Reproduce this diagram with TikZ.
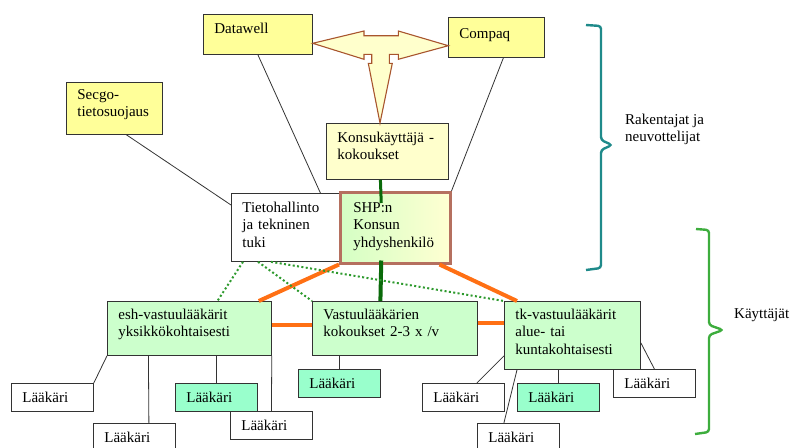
\documentclass[tikz,border=0pt]{standalone}
\usepackage{fontspec}
\setmainfont{Liberation Serif}
\usepackage{tikz}
\usepackage{color}

\definecolor{boxline}{HTML}{333333}
\definecolor{sunyellow}{HTML}{FFFF99}
\definecolor{paleyellow}{HTML}{FFFFCC}
\definecolor{palegreen}{HTML}{CCFFCC}
\definecolor{mint}{HTML}{99FFCC}
\definecolor{shpgreen}{HTML}{D4FFC4}
\definecolor{shpyellow}{HTML}{FFFFD2}
\definecolor{shpborder}{HTML}{B5705F}
\definecolor{arrowline}{HTML}{A8552E}
\definecolor{orangelink}{HTML}{FF7014}
\definecolor{darklink}{HTML}{0A6A0A}
\definecolor{dotlink}{HTML}{2E9A2E}
\definecolor{tealbrace}{HTML}{1F8A8A}
\definecolor{greenbrace}{HTML}{3DAD3D}

\begin{document}
\begin{tikzpicture}[x=1pt,y=-1pt,
  box/.style={draw=boxline, line width=0.8pt, anchor=north west, inner xsep=11pt, inner ysep=0pt,
    align=left, text height=19pt, font=\fontsize{15}{17.5}\selectfont},
  doctor/.style={box, text width=60pt, text depth=9pt},
  note/.style={anchor=north west, inner sep=0pt, align=left, text height=12pt,
    font=\fontsize{15}{17}\selectfont},
  thinlink/.style={draw=black!80, line width=0.8pt},
  orangebar/.style={draw=orangelink, line width=4pt},
  greenbar/.style={draw=darklink, line width=4pt},
  dotbar/.style={draw=dotlink, line width=2pt, dash pattern=on 2pt off 2.4pt},
  brace/.style={line width=2.4pt, rounded corners=3pt}]

\useasboundingbox (0,0) rectangle (791,447);

\node[box, fill=sunyellow, text width=87pt, text depth=21pt] (datawell) at (203,14) {Datawell};
\node[box, fill=sunyellow, text width=74pt, text height=21pt, text depth=19pt] (compaq) at (448,17) {Compaq};
\node[box, fill=paleyellow, text width=100pt, text depth=37pt] (konsu) at (326,123) {Konsukäyttäjä -\\kokoukset};
\node[box, fill=sunyellow, text width=74pt, text height=17pt, text depth=35pt] (secgo) at (66,82) {Secgo-\\tietosuojaus};
\node[box, fill=white, text width=86pt, text depth=49pt] (tieto) at (231,193) {Tietohallinto\\ja tekninen\\tuki};
\node[box, draw=shpborder, line width=2.5pt, left color=shpgreen, right color=shpyellow,
  inner xsep=13pt, text width=84pt, text height=20pt, text depth=51pt] (shp) at (339,191) {SHP:n\\Konsun\\yhdyshenkilö};

\node[box, fill=palegreen, text width=142pt, text height=18pt, text depth=36pt] (esh) at (107,301) {esh-vastuulääkärit\\yksikkökohtaisesti};
\node[box, fill=palegreen, text width=143pt, text height=18pt, text depth=36pt] (vastuu) at (312,301) {Vastuulääkärien\\kokoukset 2-3 x /v};
\node[box, fill=palegreen, text width=114pt, text height=18pt, text depth=50pt] (tk) at (504,301) {tk-vastuulääkärit\\alue- tai\\kuntakohtaisesti};

\node[doctor, fill=white] (l1) at (11,383) {Lääkäri};
\node[doctor, fill=white] (l2) at (93,423) {Lääkäri};
\node[doctor, fill=mint] (l3) at (175,383) {Lääkäri};
\node[doctor, fill=white] (l4) at (230,411) {Lääkäri};
\node[doctor, fill=mint] (l5) at (298,369) {Lääkäri};
\node[doctor, fill=white] (l6) at (422,383) {Lääkäri};
\node[doctor, fill=mint] (l7) at (517,383) {Lääkäri};
\node[doctor, fill=white] (l8) at (613,369) {Lääkäri};
\node[doctor, fill=white] (l9) at (477,423) {Lääkäri};

\node[note] (builders) at (625,129) {Rakentajat ja\\neuvottelijat};
\node[note] (users) at (734,306) {Käyttäjät};

\draw[fill=paleyellow, draw=arrowline, line width=1.1pt, line join=miter]
  (312.7,43.3) -- (364,31) -- (364,35.7) -- (398.3,35.7) -- (398.3,31) -- (448.3,45.7)
  -- (398.3,59.3) -- (398.3,54.3) -- (389.3,54.3) -- (389.3,63.3) -- (392.3,63.3)
  -- (380,123) -- (368.3,63.3) -- (371.7,63.3) -- (371.7,54.3) -- (364,54.3)
  -- (364,59.3) -- cycle;

\draw[thinlink] (datawell.south) -- ([xshift=35pt]tieto.north);
\draw[thinlink] ([xshift=7pt]compaq.south) -- (shp.north east);
\draw[thinlink] ([xshift=12pt]secgo.south) -- ([yshift=-12pt]tieto.north west);

\draw[greenbar, line width=3pt] ([xshift=-7pt]konsu.south) -- ([xshift=-14pt,yshift=-12pt]shp.north);
\draw[greenbar] ([xshift=-14pt,yshift=4pt]shp.south) -- ([xshift=-14.5pt]vastuu.north);

\draw[orangebar] (shp.south west) -- ([xshift=-13pt]esh.north east);
\draw[orangebar] ([xshift=-12pt]shp.south east) -- ([xshift=13pt]tk.north west);
\draw[orangebar] ([yshift=3pt]esh.east) -- ([yshift=3pt]vastuu.west);
\draw[orangebar] ([yshift=5pt]vastuu.east) -- ([yshift=12pt]tk.west);

\draw[dotbar] ([xshift=12pt]tieto.south west) -- ([xshift=28pt]esh.north);
\draw[dotbar] ([xshift=27pt]tieto.south west) -- (vastuu.north west);
\draw[dotbar] ([xshift=40pt]tieto.south west) -- (tk.north west);

\draw[thinlink] (esh.south west) -- (l1.north east);
\draw[thinlink] ([xshift=-41pt]esh.south) -- ([xshift=14.5pt]l2.north);
\draw[thinlink] ([xshift=27pt]esh.south) -- (l3.north);
\draw[thinlink] (esh.south east) -- (l4.north);
\draw[thinlink] ([xshift=-55.5pt]vastuu.south) -- (l5.north);
\draw[thinlink] ([yshift=14pt]tk.south west) -- ([xshift=-28pt]l6.north east);
\draw[thinlink] ([xshift=13pt]tk.south west) -- ([xshift=-14.5pt]l9.north);
\draw[thinlink] ([xshift=-14pt]tk.south) -- (l7.north);
\draw[thinlink] ([yshift=27pt]tk.south east) -- (l8.north);

\draw[brace, tealbrace] (586,25) -- (601,26) -- (601,140) -- (612,145) -- (601,150) -- (601,268) -- (586,270);
\draw[brace, greenbrace] (696,229) -- (709,230) -- (709,325) -- (723,330) -- (709,335) -- (709,432) -- (695,434);
\end{tikzpicture}
\end{document}
